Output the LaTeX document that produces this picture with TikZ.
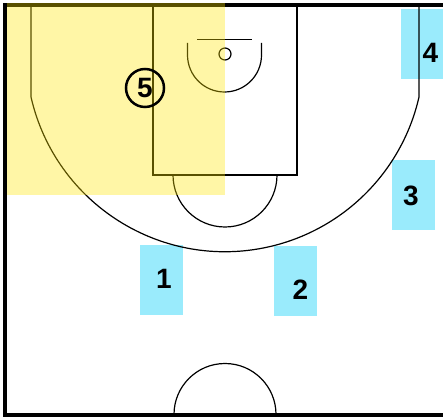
\documentclass[tikz,border=0pt]{standalone}
\usepackage{fontspec}
\setmainfont{Liberation Sans}
\usepackage{tikz}
\usetikzlibrary{positioning,calc}
\definecolor{spotblue}{RGB}{154,235,252}
\definecolor{zoneyellow}{RGB}{255,230,0}

\begin{document}
\begin{tikzpicture}[x=1pt, y=1pt,
  court/.style={line width=1.2pt, line cap=butt},
  border/.style={line width=4pt},
  spot/.style={rectangle, fill=spotblue, minimum width=43pt, minimum height=70pt, inner sep=0pt},
  num/.style={font=\bfseries\fontsize{28}{30}\selectfont, inner sep=0pt},
  post/.style={circle, draw, line width=2.5pt, minimum size=38pt, inner sep=0pt}
]
  \useasboundingbox (0,0) rectangle (443,417);

  % player spots
  \node[spot] (s1) at (161.5,137) {};
  \node[spot] (s2) at (295.5,136) {};
  \node[spot] (s3) at (413.5,222) {};
  \node[spot] (s4) at (422.5,373) {};

  % court
  \draw[border] (443,411.5) -- (4.5,411.5) -- (4.5,2.5) -- (443,2.5);
  \draw[court] (31,411.5) -- (31,320) arc[start angle=192.86, end angle=347.14, radius=199pt] -- (419,411.5);
  \draw[court] (153,411.5) -- (153,242) -- (297,242) -- (297,411.5);
  \draw[court] (173,242) arc[start angle=180, end angle=360, radius=52pt];
  \draw[court] (187.5,374) -- (187.5,362) arc[start angle=180, end angle=360, radius=37pt] -- (261.5,374);
  \draw[court] (197,377.5) -- (252,377.5);
  \draw[court] (225,363) circle[radius=6pt];
  \draw[court] (276,2.5) arc[start angle=0, end angle=180, radius=51pt];

  % zone
  \fill[zoneyellow, opacity=0.35] (7,222) rectangle (225,413.5);

  % players
  \node[num] (p1) at (164,138) {1};
  \node[num] (p2) at (300.5,127.5) {2};
  \node[num] (p3) at (411,221) {3};
  \node[num] (p4) at (430.5,364) {4};
  \node[post] (p5c) at (145,329) {};
  \node[num] (p5) at (p5c) {5};
\end{tikzpicture}
\end{document}
